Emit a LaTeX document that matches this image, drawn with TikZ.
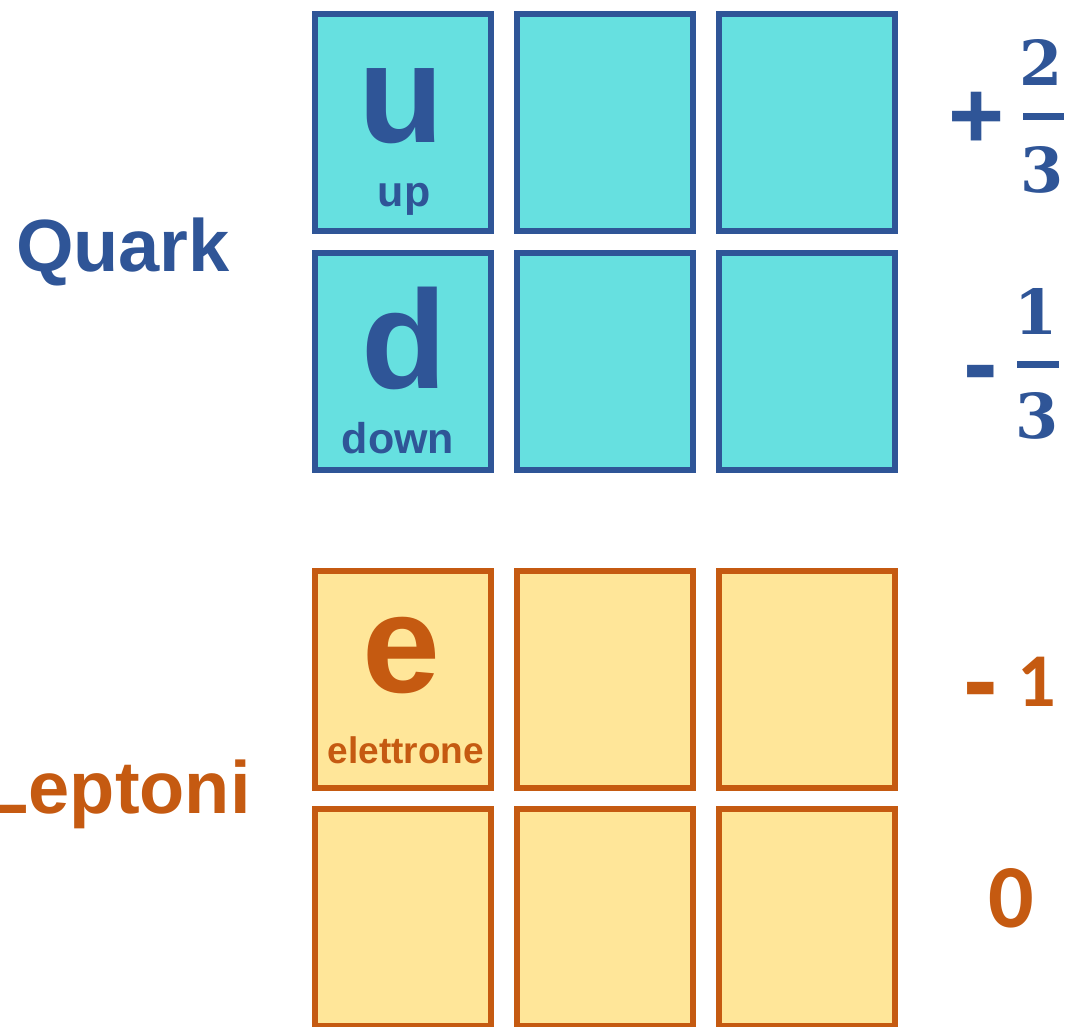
\documentclass[tikz,border=0pt]{standalone}
\usepackage{fontspec}
\newfontfamily\arialf{Liberation Sans}
\newfontfamily\calibf{Carlito}
\newfontfamily\serifd{DejaVu Serif}
\usetikzlibrary{positioning}
\definecolor{qblue}{RGB}{47,85,151}
\definecolor{qcyan}{RGB}{102,224,224}
\definecolor{lorange}{RGB}{197,90,17}
\definecolor{lyellow}{RGB}{255,230,153}
\newcommand{\fsz}[1]{\fontsize{#1}{#1}\selectfont}

\begin{document}
\begin{tikzpicture}[x=0.5pt,y=-0.5pt,
  qbox/.style={draw=qblue,fill=qcyan,line width=3pt,inner sep=0pt,
               minimum width=88pt,minimum height=108.5pt},
  lbox/.style={qbox,draw=lorange,fill=lyellow},
  fam/.style={font=\arialf\bfseries\fsz{37pt},inner sep=0pt},
  big/.style={font=\arialf\bfseries\fsz{70pt},inner sep=0pt,anchor=base},
  nm/.style={font=\arialf\bfseries\fsz{21.5pt},inner sep=0pt,anchor=base},
  sgn/.style={font=\arialf\bfseries\fsz{48pt},inner sep=0pt},
  dig/.style={font=\serifd\bfseries\fsz{31pt},inner sep=0pt,color=qblue},
  fracbar/.style={line width=3.5pt,color=qblue}
]
\useasboundingbox (0,0) rectangle (1071,1027);
\clip (0,0) rectangle (1071,1027);

% quark boxes
\node[qbox] (q11) at (403,122.5) {};
\node[qbox] (q12) at (605,122.5) {};
\node[qbox] (q13) at (807,122.5) {};
\node[qbox] (q21) at (403,361.5) {};
\node[qbox] (q22) at (605,361.5) {};
\node[qbox] (q23) at (807,361.5) {};
% lepton boxes
\node[lbox] (l11) at (403,679.5) {};
\node[lbox] (l12) at (605,679.5) {};
\node[lbox] (l13) at (807,679.5) {};
\node[lbox] (l21) at (403,917.5) {};
\node[lbox] (l22) at (605,917.5) {};
\node[lbox] (l23) at (807,917.5) {};

% particles
\node[big,color=qblue] (up) at (401,143) {u};
\node[nm,color=qblue] (upname) at (404,207) {up};
\node[big,color=qblue] (down) at (404,388) {d};
\node[nm,color=qblue] (downname) at (398,453) {down};
\node[big,color=lorange] (el) at (401,692) {e};
\node[nm,color=lorange,font=\arialf\bfseries\fsz{18.5pt}] (elname) at (406,763) {elettrone};

% families
\node[fam,color=qblue,anchor=base] (quark) at (123,271) {Quark};
\node[fam,color=lorange,anchor=base east] (leptoni) at (251,813) {Leptoni};

% charges
\node[sgn,color=qblue] (plus) at (977,120) {+};
\node[dig] (n1) at (1041,62) {2};
\node[dig] (d1) at (1042,170) {3};
\draw[fracbar] (1023,117) -- (1064,117);
\node[sgn,color=qblue,font=\arialf\bfseries\fsz{52pt}] (minus1) at (981,382) {-};
\node[dig] (n2) at (1036,311) {1};
\node[dig] (d2) at (1037,416) {3};
\draw[fracbar] (1017,364) -- (1059,364);
\node[sgn,color=lorange,font=\arialf\bfseries\fsz{52pt}] (minus2) at (981,699) {-};
\node[inner sep=0pt,color=lorange,font=\calibf\bfseries\fsz{38pt},anchor=base] (one) at (1037,706) {1};
\node[inner sep=0pt,color=lorange,font=\calibf\bfseries\fsz{45pt},anchor=base] (zero) at (1011,927) {0};
\end{tikzpicture}
\end{document}
